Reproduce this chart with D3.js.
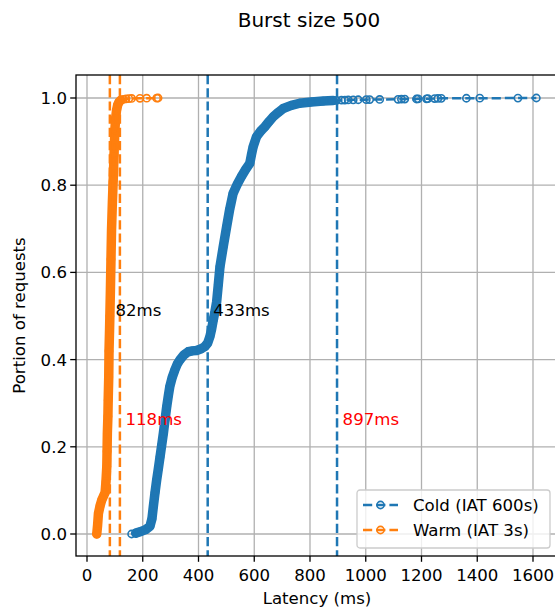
<!DOCTYPE html>
<html>
<head>
<meta charset="utf-8">
<script src="https://cdn.jsdelivr.net/npm/d3@7"></script>
<style>
  body { margin: 0; background: #fff; }
  text { font-family: "DejaVu Sans", sans-serif; }
</style>
</head>
<body>
<script>
// values
var coldLatency = [160, 175, 190, 210, 226, 233, 238, 244, 250, 256, 262, 268, 274, 280, 286, 292, 297, 306, 315, 324,
    333, 348, 363, 378, 393, 410, 423, 433, 441, 447, 453, 459, 465, 471, 477, 489, 501, 512, 524, 539,
    554, 569, 584, 590, 596, 608, 623, 638, 653, 668, 686, 704, 733, 763, 805, 847, 883,
    895, 913, 925, 937, 955, 973, 1002, 1014, 1050, 1116, 1128, 1140, 1182, 1188, 1218, 1223, 1247, 1259, 1271,
    1361, 1409, 1546, 1612];
var coldPortion = [0.000, 0.002, 0.005, 0.010, 0.018, 0.035, 0.063, 0.095, 0.124, 0.150, 0.177, 0.204, 0.231, 0.262, 0.292, 0.318, 0.338, 0.360, 0.376, 0.390,
    0.399, 0.411, 0.418, 0.420, 0.421, 0.425, 0.430, 0.438, 0.453, 0.470, 0.491, 0.510, 0.532, 0.572, 0.613, 0.660, 0.705, 0.745, 0.781, 0.802,
    0.820, 0.836, 0.850, 0.870, 0.888, 0.911, 0.924, 0.934, 0.946, 0.957, 0.967, 0.976, 0.983, 0.988, 0.991, 0.993, 0.994,
    0.9945, 0.995, 0.9952, 0.9955, 0.9957, 0.996, 0.9962, 0.9965, 0.9967, 0.997, 0.9972, 0.9975, 0.9977, 0.998, 0.9982, 0.9985, 0.9987, 0.999, 0.9992,
    0.9994, 0.9996, 0.9998, 1.0];
var coldDense = [1, 57]; // range of points packed so tight that the markers merge

var warmLatency = [35, 38, 41, 47, 53, 60, 65, 68, 71, 72, 73, 75, 76, 78, 79, 81, 82, 84, 86, 88,
    91, 94, 97, 100, 103, 106, 110, 115, 121, 130, 140, 150, 160, 190, 214, 250, 255];
var warmPortion = [0.000, 0.020, 0.047, 0.065, 0.078, 0.088, 0.095, 0.120, 0.154, 0.190, 0.231, 0.270, 0.307, 0.360, 0.420, 0.470, 0.500, 0.560, 0.630, 0.697,
    0.760, 0.812, 0.870, 0.927, 0.955, 0.972, 0.984, 0.991, 0.995, 0.997, 0.998, 0.9985, 0.999, 0.9993, 0.9995, 0.9997, 1.0];
var warmDense = [0, 29];

var seriesNames = ["Cold (IAT 600s)", "Warm (IAT 3s)"];
var seriesColors = ["#1f77b4", "#ff7f0e"];

// kind 0 = black label at 0.5, kind 1 = red label at 0.25
var markLatency = [433, 897, 82, 118];
var markSeries = [0, 0, 1, 1];
var markKind = [0, 1, 0, 1];

var xTicks = [0, 200, 400, 600, 800, 1000, 1200, 1400, 1600];
var yTicks = [0.0, 0.2, 0.4, 0.6, 0.8, 1.0];

var W = 555, H = 608;
var box = {left: 76, right: 561, top: 75, bottom: 556};

var x = d3.scaleLinear().domain([0, 1600]).range([87, 533]);
var y = d3.scaleLinear().domain([0, 1]).range([534, 98]);

var svg = d3.select("body").append("svg")
    .attr("width", W)
    .attr("height", H);

svg.append("defs").append("clipPath")
    .attr("id", "plot")
    .append("rect")
    .attr("x", box.left)
    .attr("y", box.top)
    .attr("width", box.right - box.left)
    .attr("height", box.bottom - box.top);

// grid
var grid = svg.append("g").attr("stroke", "#b0b0b0").attr("stroke-width", 1.3);
grid.selectAll("line.gx")
    .data(xTicks)
    .enter()
    .append("line")
    .attr("x1", function(d) { return x(d); })
    .attr("x2", function(d) { return x(d); })
    .attr("y1", box.top)
    .attr("y2", box.bottom);
grid.selectAll("line.gy")
    .data(yTicks)
    .enter()
    .append("line")
    .attr("x1", box.left)
    .attr("x2", box.right)
    .attr("y1", function(d) { return y(d); })
    .attr("y2", function(d) { return y(d); });

var plot = svg.append("g").attr("clip-path", "url(#plot)");

var line = d3.line()
    .x(function(d) { return x(d[0]); })
    .y(function(d) { return y(d[1]); });

function drawSeries(lat, por, dense, color) {
    var pts = d3.zip(lat, por);
    var g = plot.append("g");

    g.append("path")
        .attr("d", line(pts.slice(dense[0], dense[1])))
        .attr("fill", "none")
        .attr("stroke", color)
        .attr("stroke-width", 9.5)
        .attr("stroke-linejoin", "round")
        .attr("stroke-linecap", "round");

    g.append("path")
        .attr("d", line(pts))
        .attr("fill", "none")
        .attr("stroke", color)
        .attr("stroke-width", 2.5)
        .attr("stroke-dasharray", "9.2,4");

    g.selectAll("circle")
        .data(pts)
        .enter()
        .append("circle")
        .attr("cx", function(d) { return x(d[0]); })
        .attr("cy", function(d) { return y(d[1]); })
        .attr("r", 3.6)
        .attr("fill", "none")
        .attr("stroke", color)
        .attr("stroke-width", 1.6);
}

drawSeries(coldLatency, coldPortion, coldDense, seriesColors[0]);
drawSeries(warmLatency, warmPortion, warmDense, seriesColors[1]);

// vertical markers + labels
markLatency.forEach(function(v, i) {
    plot.append("line")
        .attr("x1", x(v))
        .attr("x2", x(v))
        .attr("y1", box.top)
        .attr("y2", box.bottom)
        .attr("stroke", seriesColors[markSeries[i]])
        .attr("stroke-width", 2.5)
        .attr("stroke-dasharray", "9.2,4");

    svg.append("text")
        .attr("x", x(v + 20))
        .attr("y", y(markKind[i] === 0 ? 0.5 : 0.25))
        .attr("font-size", 16.6)
        .attr("fill", markKind[i] === 0 ? "#000" : "#ff0000")
        .text(v + "ms");
});

// spines
svg.append("rect")
    .attr("x", box.left)
    .attr("y", box.top)
    .attr("width", box.right - box.left)
    .attr("height", box.bottom - box.top)
    .attr("fill", "none")
    .attr("stroke", "#000")
    .attr("stroke-width", 1.3);

// ticks
var ticks = svg.append("g");
xTicks.forEach(function(t) {
    ticks.append("line")
        .attr("x1", x(t)).attr("x2", x(t))
        .attr("y1", box.bottom).attr("y2", box.bottom + 5.8)
        .attr("stroke", "#000").attr("stroke-width", 1.3);
    ticks.append("text")
        .attr("x", x(t))
        .attr("y", box.bottom + 25)
        .attr("text-anchor", "middle")
        .attr("font-size", 16.6)
        .text(t);
});
yTicks.forEach(function(t) {
    ticks.append("line")
        .attr("x1", box.left - 5.8).attr("x2", box.left)
        .attr("y1", y(t)).attr("y2", y(t))
        .attr("stroke", "#000").attr("stroke-width", 1.3);
    ticks.append("text")
        .attr("x", box.left - 9)
        .attr("y", y(t))
        .attr("dy", "0.36em")
        .attr("text-anchor", "end")
        .attr("font-size", 16.6)
        .text(t.toFixed(1));
});

svg.append("text")
    .attr("x", 317)
    .attr("y", 604)
    .attr("text-anchor", "middle")
    .attr("font-size", 16.6)
    .text("Latency (ms)");

svg.append("text")
    .attr("transform", "translate(25," + ((box.top + box.bottom) / 2) + ") rotate(-90)")
    .attr("text-anchor", "middle")
    .attr("font-size", 16.6)
    .text("Portion of requests");

svg.append("text")
    .attr("x", 309)
    .attr("y", 27)
    .attr("text-anchor", "middle")
    .attr("font-size", 20)
    .text("Burst size 500");

// legend
var legend = svg.append("g").attr("transform", translate(357, 490));
legend.append("rect")
    .attr("width", 193)
    .attr("height", 58)
    .attr("rx", 3)
    .attr("fill", "#fff")
    .attr("fill-opacity", 0.8)
    .attr("stroke", "#cccccc")
    .attr("stroke-width", 1.3);

seriesNames.forEach(function(name, i) {
    var row = legend.append("g").attr("transform", translate(0, 15 + i * 25));
    row.append("line")
        .attr("x1", 6).attr("x2", 41)
        .attr("stroke", seriesColors[i])
        .attr("stroke-width", 2.5)
        .attr("stroke-dasharray", "9.2,4");
    row.append("circle")
        .attr("cx", 23.5)
        .attr("r", 3.6)
        .attr("fill", "none")
        .attr("stroke", seriesColors[i])
        .attr("stroke-width", 1.6);
    row.append("text")
        .attr("x", 56)
        .attr("dy", "0.36em")
        .attr("font-size", 16.6)
        .text(name);
});

function translate(a, b) {
    return "translate(" + a + "," + b + ")";
}
</script>
</body>
</html>
